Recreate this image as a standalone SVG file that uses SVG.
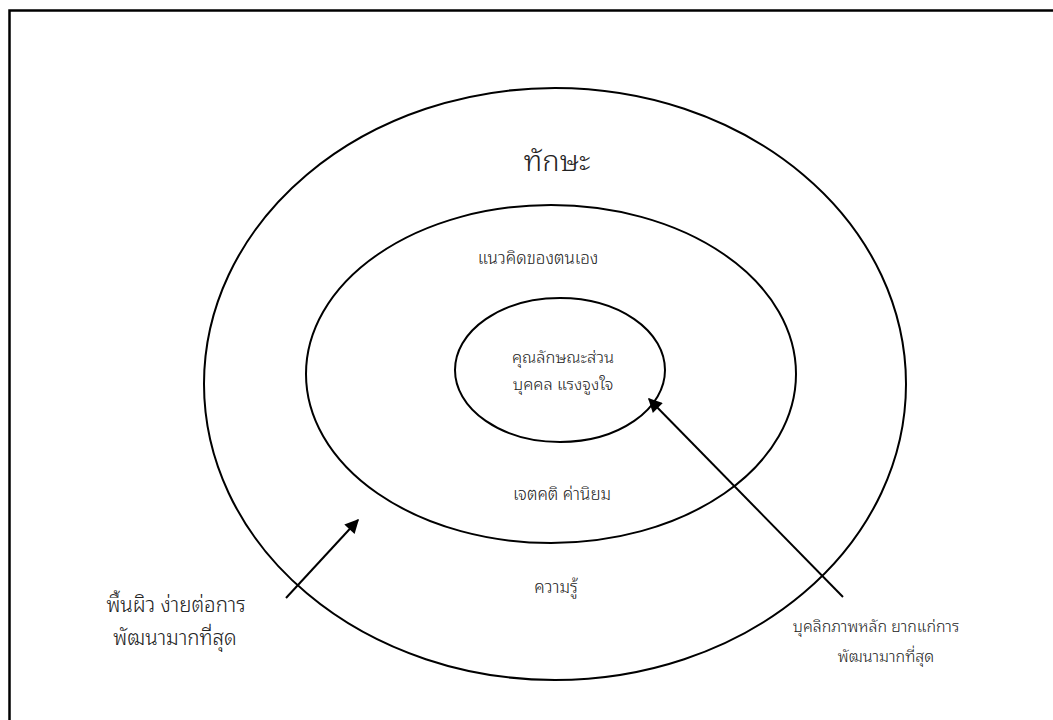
<svg xmlns="http://www.w3.org/2000/svg" width="1053" height="720" viewBox="0 0 1053 720">
  <style>
    .ring { fill: none; stroke: #000; stroke-width: 2; }
    .frame { fill: none; stroke: #000; stroke-width: 2.5; }
    .lbl { font-family: "Noto Sans Thai Looped", "Noto Sans Thai", "Noto Sans", "DejaVu Sans", sans-serif; fill: #222; text-anchor: middle; font-weight: 300; }
    .arrow { stroke: #000; stroke-width: 2; fill: none; marker-end: url(#head); }
  </style>
  <defs>
    <marker id="head" viewBox="0 0 10 10" refX="9" refY="5" markerWidth="8" markerHeight="7" orient="auto" markerUnits="strokeWidth">
      <path d="M0,0 L10,5 L0,10 Z" fill="#000"/>
    </marker>
  </defs>
  <rect width="1053" height="720" fill="#fff"/>
  <!-- page frame (top and left edges visible) -->
  <rect class="frame" x="9.5" y="10.5" width="1080" height="760"/>

  <g id="outer-ring">
    <ellipse class="ring" cx="555" cy="384" rx="351" ry="296"/>
    <text class="lbl" x="557" y="171" font-size="29">ทักษะ</text>
    <text class="lbl" x="556" y="593" font-size="17">ความรู้</text>
  </g>

  <g id="middle-ring">
    <ellipse class="ring" cx="551" cy="374" rx="245" ry="169"/>
    <text class="lbl" x="538" y="264" font-size="17">แนวคิดของตนเอง</text>
    <text class="lbl" x="562" y="500" font-size="17">เจตคติ ค่านิยม</text>
  </g>

  <g id="inner-ring">
    <ellipse class="ring" cx="560" cy="370" rx="105" ry="72"/>
    <text class="lbl" x="563" y="363" font-size="16.5">คุณลักษณะส่วน</text>
    <text class="lbl" x="563" y="390" font-size="16.5">บุคคล แรงจูงใจ</text>
  </g>

  <g id="surface-note">
    <text class="lbl" x="176" y="612" font-size="20.5">พื้นผิว ง่ายต่อการ</text>
    <text class="lbl" x="175" y="645" font-size="20.5">พัฒนามากที่สุด</text>
  </g>

  <g id="core-note">
    <text class="lbl" x="876" y="632" font-size="16">บุคลิกภาพหลัก ยากแก่การ</text>
    <text class="lbl" x="886" y="662" font-size="16">พัฒนามากที่สุด</text>
  </g>

  <g id="connectors">
    <line class="arrow" x1="286" y1="598" x2="358" y2="520"/>
    <line class="arrow" x1="843" y1="597" x2="649" y2="399"/>
  </g>
</svg>
